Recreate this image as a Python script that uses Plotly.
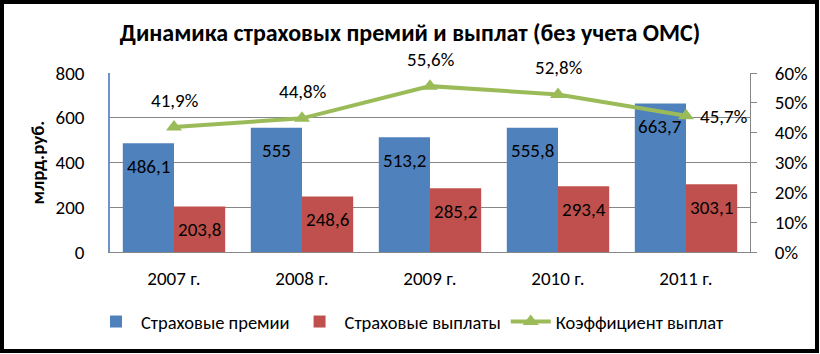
import plotly.graph_objects as go

years = ["2007 г.", "2008 г.", "2009 г.", "2010 г.", "2011 г."]
premiums = [486.1, 555, 513.2, 555.8, 663.7]
payouts = [203.8, 248.6, 285.2, 293.4, 303.1]
ratio = [41.9, 44.8, 55.6, 52.8, 45.7]

BLUE = "#4F81BD"
RED = "#C0504D"
GREEN = "#9BBB59"
GRID = "#868686"
FONT = "Carlito, 'Liberation Sans Narrow', 'DejaVu Sans Condensed', 'Open Sans', sans-serif"
FS = 19

W, H = 820, 354
ML, MR, MT, MB = 110, 70, 73, 102
PW, PH = W - ML - MR, H - MT - MB


def fmt(v):
    return f"{v:g}".replace(".", ",")


fig = go.Figure()
fig.add_trace(go.Bar(x=years, y=premiums, name="Страховые премии",
                     marker=dict(color=BLUE, line=dict(width=0))))
fig.add_trace(go.Bar(x=years, y=payouts, name="Страховые выплаты",
                     marker=dict(color=RED, line=dict(width=0))))
fig.add_trace(go.Scatter(x=years, y=ratio, name="Коэффициент выплат", yaxis="y2",
                         mode="lines+markers",
                         line=dict(color=GREEN, width=4),
                         marker=dict(symbol="triangle-up", size=14, color=GREEN)))

annotations = []
cat_w = PW / len(years)
for i, y in enumerate(years):
    annotations.append(dict(x=y, y=premiums[i], xref="x", yref="y", text=fmt(premiums[i]),
                            showarrow=False, xshift=-0.2 * cat_w, yshift=-23,
                            font=dict(size=FS, color="black", family=FONT)))
    annotations.append(dict(x=y, y=payouts[i], xref="x", yref="y", text=fmt(payouts[i]),
                            showarrow=False, xshift=0.2 * cat_w, yshift=-23,
                            font=dict(size=FS, color="black", family=FONT)))
    last = i == len(years) - 1
    annotations.append(dict(x=y, y=ratio[i], xref="x", yref="y2", text=fmt(ratio[i]) + "%",
                            showarrow=False, xshift=37 if last else 0, yshift=-1 if last else 27,
                            font=dict(size=FS, color="black", family=FONT)))


def px_x(p):
    return (p - ML) / PW


def px_y(p):
    return (H - MB - p) / PH


fig.update_layout(
    width=W, height=H,
    margin=dict(l=ML, r=MR, t=MT, b=MB),
    paper_bgcolor="white", plot_bgcolor="white",
    font=dict(family=FONT, size=FS, color="black"),
    title=dict(text="<b>Динамика страховых премий и выплат (без учета ОМС)</b>",
               x=0.5, xref="container", xanchor="center",
               y=1 - 33 / H, yref="container", yanchor="middle",
               font=dict(size=24, family=FONT, color="black")),
    barmode="group", bargap=0.2, bargroupgap=0,
    xaxis=dict(showline=True, linecolor=GRID, linewidth=1, ticks="",
               tickfont=dict(size=FS), ticklabelstandoff=9),
    yaxis=dict(range=[0, 800], dtick=200, showgrid=True, gridcolor=GRID, gridwidth=1,
               showline=True, linecolor="#6F93C6", linewidth=1.5, zeroline=False,
               ticks="", ticklabelstandoff=20, tickfont=dict(size=FS),
               title=dict(text="<b>млрд.руб.</b>", font=dict(size=FS), standoff=6)),
    yaxis2=dict(range=[0, 60], dtick=10, ticksuffix="%", overlaying="y", side="right",
                showgrid=False, zeroline=False, showline=True, linecolor=GRID, linewidth=1,
                ticks="outside", ticklen=6, tickcolor=GRID, ticklabelstandoff=14,
                tickfont=dict(size=FS)),
    legend=dict(orientation="h", x=0.5, xref="container", xanchor="center",
                y=1 - 322 / H, yref="container", yanchor="middle",
                font=dict(size=18.5), itemwidth=40, traceorder="normal"),
    annotations=annotations,
    shapes=[dict(type="rect", xref="paper", yref="paper",
                 x0=px_x(2), x1=px_x(817), y0=px_y(2), y1=px_y(351),
                 line=dict(color="black", width=4), fillcolor="rgba(0,0,0,0)", layer="above")],
)

fig.write_html("out.html")
